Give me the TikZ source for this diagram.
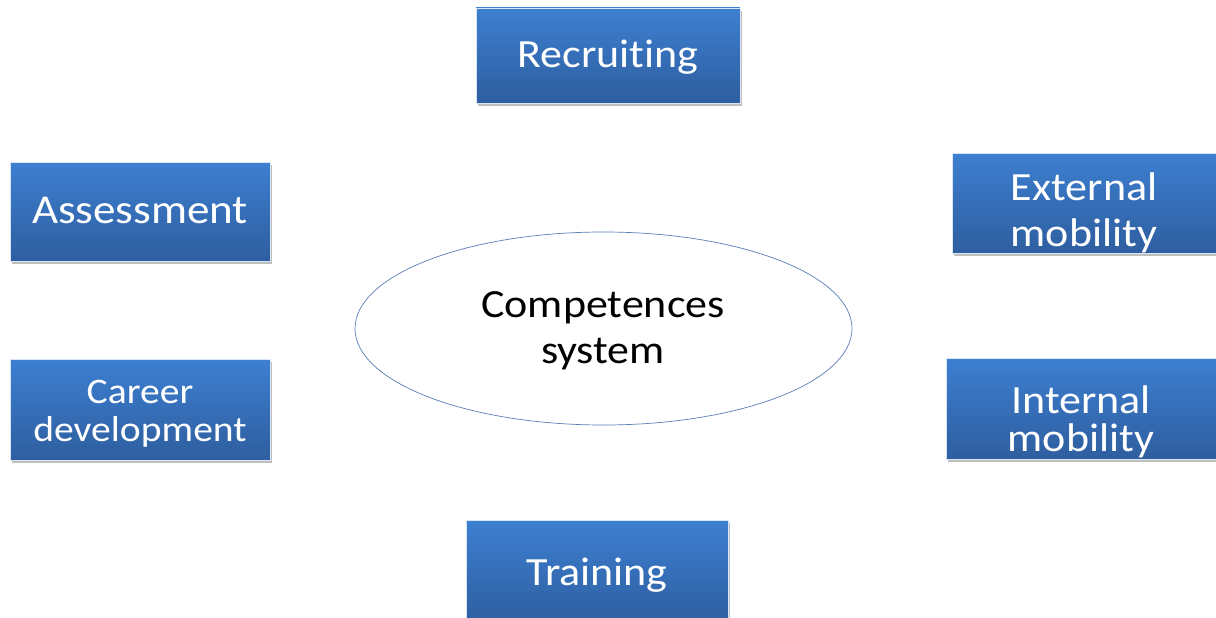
\documentclass[tikz,border=0pt]{standalone}
\usepackage{fontspec}
\setmainfont{Carlito}[FakeStretch=1.1, Ligatures=NoCommon]
\usetikzlibrary{shapes.geometric,shadows}
\definecolor{boxtop}{HTML}{3D7FD1}
\definecolor{boxbot}{HTML}{2E5E9F}
\definecolor{ellline}{HTML}{5A7EB5}
\begin{document}
\begin{tikzpicture}[x=1pt,y=-1pt,
  blk/.style={rectangle, minimum width=#1, inner sep=0pt,
    top color=boxtop, bottom color=boxbot, draw=white!80!boxtop, line width=0.6pt,
    drop shadow={shadow xshift=2pt, shadow yshift=-3pt, fill=black, opacity=0.25}},
  txt/.style={anchor=base, inner sep=0pt, text=white, font=\fontsize{40}{#1}\selectfont, align=center},
  txt/.default=46,
  ell/.style={ellipse, draw=ellline, line width=0.7pt, fill=white,
    minimum width=497pt, minimum height=193pt, inner sep=0pt}]
\useasboundingbox (0,0) rectangle (1216,618);
\node[blk=264pt, minimum height=95pt] (rec) at (608,55.5) {};
\node[blk=260pt, minimum height=99pt] (ass) at (140,211.5) {};
\node[blk=264pt, minimum height=100pt] (ext) at (1084,203) {};
\node[blk=260pt, minimum height=101pt] (car) at (140,409.5) {};
\node[blk=270pt, minimum height=101pt] (int) at (1081,408.5) {};
\node[blk=262pt, minimum height=105pt] (tra) at (597,572.5) {};
\node[ell] (cs) at (603.5,328.5) {};
\node[txt] (rect) at (608,67) {Recruiting};
\node[txt, font=\fontsize{41}{46}\selectfont] (asst) at (140,223) {Assessment};
\node[txt, font=\fontsize{36}{38}\selectfont] (cart) at (140,441) {Career\\development};
\node[txt] (trat) at (597,585) {Training};
\begin{scope}
  \clip (ext.south west) rectangle (ext.north east);
  \node[txt=46] (extt) at (1084,246) {External\\mobility};
\end{scope}
\begin{scope}
  \clip (int.south west) rectangle (int.north east);
  \node[txt=38] (intt) at (1081,451) {Internal\\mobility};
\end{scope}
\node[txt=46, text=black, font=\fontsize{40}{46}\selectfont] (cst) at (603,363) {Competences\\system};
\end{tikzpicture}
\end{document}
